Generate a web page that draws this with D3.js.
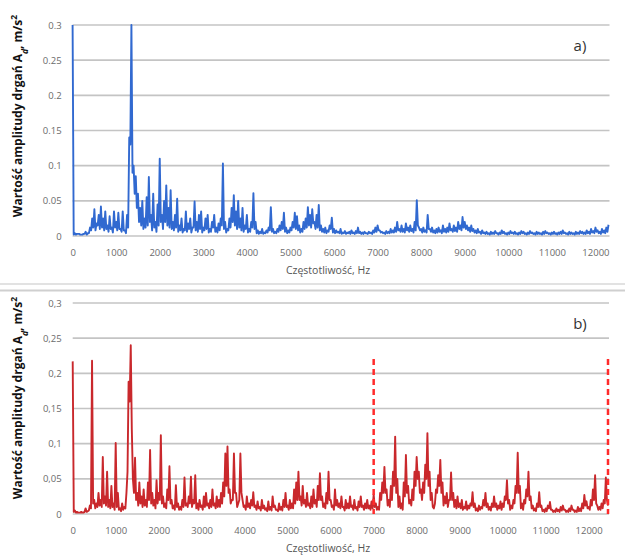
<!DOCTYPE html>
<html>
<head>
<meta charset="utf-8">
<script src="https://cdn.jsdelivr.net/npm/d3@7"></script>
<style>
  body { margin: 0; background: #fff; }
  svg text { font-family: "Open Sans", "DejaVu Sans", sans-serif; }
</style>
</head>
<body>
<div id="my-svg-chart"></div>
<script>
// spectrum data: peak values every 50 Hz starting at 0 Hz,
// plus the dips read in between (at 25, 75, 125 ... Hz)
const freqStep = 50;

// a) amplitude, m/s2 (0 .. 12300 Hz)
const ampA = [
  0.30, 0.004, 0.003, 0.003, 0.002, 0.003, 0.006, 0.004, 0.012, 0.025,
  0.038, 0.018, 0.030, 0.042, 0.025, 0.035, 0.015, 0.028, 0.012, 0.035,
  0.020, 0.033, 0.010, 0.035, 0.008, 0.030, 0.140, 0.300, 0.100, 0.085,
  0.060, 0.040, 0.050, 0.025, 0.055, 0.084, 0.030, 0.060, 0.020, 0.045,
  0.110, 0.030, 0.050, 0.072, 0.040, 0.065, 0.020, 0.030, 0.053, 0.015,
  0.025, 0.010, 0.035, 0.018, 0.025, 0.012, 0.049, 0.020, 0.030, 0.035,
  0.012, 0.025, 0.030, 0.010, 0.020, 0.030, 0.012, 0.018, 0.025, 0.103,
  0.020, 0.010, 0.025, 0.040, 0.058, 0.035, 0.050, 0.025, 0.040, 0.015,
  0.030, 0.010, 0.020, 0.061, 0.020, 0.008, 0.006, 0.010, 0.005, 0.008,
  0.012, 0.041, 0.010, 0.006, 0.010, 0.015, 0.020, 0.033, 0.012, 0.008,
  0.012, 0.020, 0.033, 0.028, 0.015, 0.010, 0.020, 0.025, 0.041, 0.030,
  0.038, 0.020, 0.030, 0.044, 0.015, 0.010, 0.012, 0.008, 0.015, 0.026,
  0.010, 0.008, 0.006, 0.010, 0.005, 0.007, 0.005, 0.006, 0.008, 0.005,
  0.007, 0.012, 0.006, 0.005, 0.006, 0.004, 0.006, 0.005, 0.008, 0.012,
  0.015, 0.008, 0.006, 0.005, 0.007, 0.006, 0.010, 0.008, 0.012, 0.020,
  0.010, 0.015, 0.010, 0.018, 0.012, 0.015, 0.010, 0.020, 0.051, 0.012,
  0.010, 0.012, 0.008, 0.030, 0.010, 0.012, 0.008, 0.010, 0.012, 0.008,
  0.015, 0.010, 0.012, 0.018, 0.010, 0.015, 0.012, 0.020, 0.015, 0.027,
  0.020, 0.015, 0.012, 0.015, 0.010, 0.008, 0.010, 0.006, 0.008, 0.005,
  0.006, 0.004, 0.006, 0.005, 0.007, 0.004, 0.005, 0.008, 0.006, 0.004,
  0.005, 0.007, 0.005, 0.006, 0.004, 0.005, 0.007, 0.006, 0.004, 0.005,
  0.007, 0.005, 0.004, 0.006, 0.005, 0.004, 0.006, 0.007, 0.005, 0.004,
  0.005, 0.006, 0.004, 0.005, 0.006, 0.008, 0.005, 0.004, 0.006, 0.005,
  0.004, 0.006, 0.005, 0.007, 0.006, 0.005, 0.008, 0.006, 0.010, 0.007,
  0.012, 0.008, 0.006, 0.010, 0.008, 0.012, 0.016
];
const dipA = [
  0.002, 0.002, 0.003, 0.002, 0.002, 0.003, 0.002, 0.004, 0.008, 0.012,
  0.008, 0.015, 0.010, 0.012, 0.008, 0.010, 0.006, 0.010, 0.005, 0.012,
  0.008, 0.010, 0.006, 0.008, 0.004, 0.012, 0.130, 0.090, 0.060, 0.040,
  0.020, 0.015, 0.010, 0.012, 0.015, 0.020, 0.008, 0.012, 0.006, 0.015,
  0.020, 0.010, 0.020, 0.015, 0.012, 0.010, 0.008, 0.012, 0.006, 0.008,
  0.005, 0.008, 0.006, 0.010, 0.005, 0.012, 0.008, 0.006, 0.010, 0.005,
  0.008, 0.010, 0.005, 0.006, 0.012, 0.006, 0.005, 0.008, 0.015, 0.010,
  0.005, 0.008, 0.012, 0.020, 0.015, 0.010, 0.012, 0.008, 0.006, 0.010,
  0.005, 0.006, 0.012, 0.010, 0.004, 0.003, 0.004, 0.003, 0.004, 0.005,
  0.008, 0.006, 0.004, 0.004, 0.006, 0.008, 0.010, 0.006, 0.004, 0.005,
  0.008, 0.012, 0.010, 0.008, 0.005, 0.006, 0.010, 0.012, 0.015, 0.012,
  0.018, 0.010, 0.012, 0.008, 0.006, 0.005, 0.004, 0.006, 0.010, 0.005,
  0.004, 0.005, 0.004, 0.003, 0.004, 0.003, 0.004, 0.003, 0.004, 0.003,
  0.004, 0.004, 0.003, 0.003, 0.004, 0.003, 0.004, 0.003, 0.005, 0.006,
  0.008, 0.005, 0.004, 0.003, 0.004, 0.004, 0.005, 0.005, 0.006, 0.008,
  0.006, 0.006, 0.005, 0.008, 0.006, 0.007, 0.005, 0.008, 0.015, 0.008,
  0.005, 0.006, 0.005, 0.010, 0.006, 0.005, 0.004, 0.005, 0.006, 0.004,
  0.006, 0.005, 0.006, 0.008, 0.006, 0.007, 0.006, 0.010, 0.008, 0.012,
  0.010, 0.008, 0.006, 0.007, 0.005, 0.004, 0.005, 0.003, 0.004, 0.003,
  0.003, 0.002, 0.003, 0.003, 0.004, 0.002, 0.003, 0.004, 0.003, 0.002,
  0.003, 0.004, 0.003, 0.003, 0.002, 0.003, 0.004, 0.003, 0.002, 0.003,
  0.004, 0.003, 0.002, 0.003, 0.003, 0.002, 0.003, 0.004, 0.003, 0.002,
  0.003, 0.003, 0.002, 0.003, 0.003, 0.004, 0.003, 0.002, 0.003, 0.003,
  0.002, 0.003, 0.003, 0.004, 0.003, 0.003, 0.004, 0.003, 0.005, 0.004,
  0.006, 0.004, 0.003, 0.005, 0.004, 0.006
];

// b) amplitude, m/s2 (0 .. 12450 Hz)
const ampB = [
  0.217, 0.005, 0.003, 0.002, 0.003, 0.002, 0.008, 0.004, 0.012, 0.218,
  0.020, 0.015, 0.030, 0.020, 0.081, 0.025, 0.060, 0.020, 0.040, 0.015,
  0.101, 0.030, 0.008, 0.015, 0.010, 0.030, 0.188, 0.240, 0.050, 0.080,
  0.030, 0.045, 0.025, 0.035, 0.020, 0.045, 0.091, 0.030, 0.020, 0.048,
  0.030, 0.112, 0.025, 0.015, 0.035, 0.068, 0.020, 0.012, 0.041, 0.015,
  0.010, 0.020, 0.052, 0.015, 0.025, 0.053, 0.020, 0.055, 0.015, 0.020,
  0.012, 0.025, 0.030, 0.015, 0.020, 0.035, 0.015, 0.025, 0.020, 0.030,
  0.045, 0.086, 0.096, 0.035, 0.020, 0.086, 0.030, 0.015, 0.086, 0.020,
  0.012, 0.025, 0.015, 0.020, 0.031, 0.012, 0.018, 0.010, 0.020, 0.012,
  0.008, 0.018, 0.010, 0.025, 0.012, 0.006, 0.015, 0.010, 0.020, 0.030,
  0.012, 0.020, 0.015, 0.035, 0.045, 0.060, 0.025, 0.040, 0.020, 0.030,
  0.015, 0.025, 0.035, 0.020, 0.040, 0.058, 0.025, 0.015, 0.030, 0.060,
  0.020, 0.012, 0.035, 0.020, 0.015, 0.025, 0.010, 0.020, 0.015, 0.025,
  0.012, 0.020, 0.010, 0.018, 0.025, 0.012, 0.015, 0.020, 0.012, 0.018,
  0.028, 0.015, 0.010, 0.030, 0.045, 0.067, 0.035, 0.020, 0.040, 0.060,
  0.110, 0.050, 0.025, 0.015, 0.045, 0.084, 0.040, 0.020, 0.035, 0.060,
  0.081, 0.060, 0.035, 0.045, 0.070, 0.115, 0.060, 0.030, 0.008, 0.035,
  0.055, 0.077, 0.045, 0.025, 0.030, 0.020, 0.059, 0.030, 0.020, 0.025,
  0.015, 0.020, 0.010, 0.018, 0.012, 0.015, 0.031, 0.015, 0.008, 0.012,
  0.010, 0.020, 0.030, 0.015, 0.010, 0.015, 0.025, 0.015, 0.012, 0.018,
  0.015, 0.025, 0.048, 0.020, 0.012, 0.020, 0.040, 0.087, 0.040, 0.015,
  0.020, 0.035, 0.060, 0.025, 0.012, 0.008, 0.015, 0.031, 0.012, 0.006,
  0.008, 0.012, 0.017, 0.006, 0.005, 0.008, 0.006, 0.010, 0.012, 0.006,
  0.005, 0.008, 0.012, 0.006, 0.005, 0.010, 0.008, 0.015, 0.027, 0.018,
  0.010, 0.020, 0.035, 0.055, 0.012, 0.010, 0.015, 0.020, 0.052, 0.012
];
const dipB = [
  0.003, 0.002, 0.002, 0.002, 0.002, 0.003, 0.003, 0.005, 0.008, 0.015,
  0.008, 0.010, 0.012, 0.010, 0.015, 0.012, 0.010, 0.008, 0.010, 0.006,
  0.010, 0.006, 0.004, 0.006, 0.008, 0.060, 0.160, 0.120, 0.030, 0.020,
  0.012, 0.015, 0.010, 0.012, 0.010, 0.020, 0.015, 0.012, 0.008, 0.015,
  0.020, 0.015, 0.010, 0.008, 0.020, 0.015, 0.008, 0.006, 0.010, 0.006,
  0.006, 0.010, 0.012, 0.010, 0.015, 0.010, 0.015, 0.008, 0.006, 0.010,
  0.006, 0.010, 0.012, 0.008, 0.010, 0.012, 0.008, 0.010, 0.010, 0.015,
  0.025, 0.040, 0.030, 0.015, 0.020, 0.030, 0.010, 0.020, 0.030, 0.010,
  0.006, 0.010, 0.008, 0.012, 0.010, 0.006, 0.008, 0.005, 0.008, 0.006,
  0.004, 0.006, 0.005, 0.010, 0.006, 0.004, 0.006, 0.005, 0.010, 0.010,
  0.006, 0.008, 0.008, 0.015, 0.020, 0.020, 0.012, 0.015, 0.010, 0.012,
  0.008, 0.010, 0.015, 0.010, 0.020, 0.020, 0.010, 0.008, 0.015, 0.020,
  0.010, 0.006, 0.012, 0.010, 0.008, 0.010, 0.005, 0.008, 0.008, 0.010,
  0.006, 0.008, 0.005, 0.010, 0.010, 0.006, 0.008, 0.008, 0.006, 0.008,
  0.010, 0.006, 0.006, 0.020, 0.030, 0.030, 0.012, 0.010, 0.020, 0.040,
  0.030, 0.010, 0.008, 0.006, 0.025, 0.030, 0.015, 0.012, 0.020, 0.040,
  0.050, 0.030, 0.020, 0.030, 0.050, 0.040, 0.020, 0.010, 0.015, 0.030,
  0.040, 0.030, 0.012, 0.015, 0.010, 0.020, 0.020, 0.010, 0.008, 0.010,
  0.008, 0.006, 0.008, 0.006, 0.008, 0.012, 0.010, 0.005, 0.004, 0.006,
  0.008, 0.012, 0.010, 0.006, 0.005, 0.010, 0.010, 0.006, 0.008, 0.006,
  0.010, 0.020, 0.015, 0.006, 0.008, 0.015, 0.030, 0.030, 0.008, 0.006,
  0.015, 0.025, 0.020, 0.008, 0.005, 0.004, 0.010, 0.010, 0.004, 0.003,
  0.004, 0.008, 0.006, 0.003, 0.003, 0.004, 0.003, 0.005, 0.006, 0.003,
  0.003, 0.004, 0.006, 0.003, 0.003, 0.004, 0.004, 0.008, 0.012, 0.008,
  0.006, 0.012, 0.020, 0.015, 0.006, 0.006, 0.008, 0.015, 0.020
];

// axis ticks
const freqTicks = [0, 1000, 2000, 3000, 4000, 5000, 6000, 7000, 8000, 9000, 10000, 11000, 12000];
const ampTicks = [0, 0.05, 0.1, 0.15, 0.2, 0.25, 0.3];
// dashed markers on panel b)
const markersB = [7000, 12450];

const myChart = d3.select('#my-svg-chart')
  .append('svg')
  .attr('width', 625)
  .attr('height', 555);

const commaFmt = d3.formatLocale({decimal: ',', thousands: ' ', grouping: [3], currency: ['', '']}).format('~g');
const dotFmt = d3.format('~g');

// separator between the two charts
myChart.append('line')
  .attr('x1', 0).attr('x2', 625).attr('y1', 284).attr('y2', 284)
  .style('stroke', '#d9d9d9').style('stroke-width', 1.5);
myChart.append('line')
  .attr('x1', 0).attr('x2', 625).attr('y1', 290.5).attr('y2', 290.5)
  .style('stroke', '#cfcfcf').style('stroke-width', 2);

function drawPanel(opts) {
  // merge peaks and dips into one sorted series
  const data = [];
  opts.values.forEach((v, i) => {
    data.push({f: i * freqStep, a: v});
    if (i < opts.dips.length) data.push({f: i * freqStep + freqStep / 2, a: opts.dips[i]});
  });
  const fMax = (opts.values.length - 1) * freqStep;

  const x = d3.scaleLinear().domain([0, fMax]).range([opts.left, opts.right]);
  const y = d3.scaleLinear().domain([0, 0.3]).range([opts.bottom, opts.top]);

  const g = myChart.append('g');

  // horizontal gridlines
  g.selectAll('line.grid')
    .data(ampTicks)
    .join('line')
    .attr('class', 'grid')
    .attr('x1', opts.left)
    .attr('x2', opts.right + 1)
    .attr('y1', d => y(d))
    .attr('y2', d => y(d))
    .style('stroke', '#c4c4c4')
    .style('stroke-width', 1.6);

  // y tick labels
  const yAxis = d3.axisLeft(y).tickValues(ampTicks).tickSize(0).tickPadding(0).tickFormat(opts.fmt);
  g.append('g')
    .attr('transform', `translate(${opts.left - 11},0)`)
    .call(yAxis)
    .call(s => s.select('.domain').remove())
    .selectAll('text')
    .style('font-size', '9.5px')
    .style('fill', '#6b6b6b');

  // x tick labels
  const xAxis = d3.axisBottom(x).tickValues(freqTicks).tickSize(0).tickPadding(0).tickFormat(d3.format('d'));
  g.append('g')
    .attr('transform', `translate(0,${opts.bottom + 13})`)
    .call(xAxis)
    .call(s => s.select('.domain').remove())
    .selectAll('text')
    .style('font-size', '9.5px')
    .style('fill', '#6b6b6b');

  // x title
  g.append('text')
    .attr('x', 328)
    .attr('y', opts.bottom + 38)
    .attr('text-anchor', 'middle')
    .style('font-size', '10.5px')
    .style('fill', '#555')
    .text('Częstotliwość, Hz');

  // y title
  const yt = g.append('text')
    .attr('transform', `translate(22,${opts.titleY}) rotate(-90)`)
    .attr('text-anchor', 'middle')
    .style('font-size', '12px')
    .style('font-weight', 'bold')
    .style('fill', '#111');
  yt.append('tspan').text('Wartość amplitudy drgań A');
  yt.append('tspan').attr('baseline-shift', 'sub').style('font-size', '8.5px').style('font-style', 'italic').text('d');
  yt.append('tspan').text(', m/s');
  yt.append('tspan').attr('baseline-shift', 'super').style('font-size', '8.5px').text('2');

  // spectrum line
  const line = d3.line().x(d => x(d.f)).y(d => y(Math.min(d.a, 0.3)));
  g.append('path')
    .datum(data)
    .attr('d', line)
    .style('fill', 'none')
    .style('stroke', opts.color)
    .style('stroke-width', 1.9)
    .style('stroke-linejoin', 'round');

  // dashed markers
  g.selectAll('line.marker')
    .data(opts.markers || [])
    .join('line')
    .attr('class', 'marker')
    .attr('x1', d => x(d))
    .attr('x2', d => x(d))
    .attr('y1', opts.markerTop)
    .attr('y2', opts.bottom)
    .style('stroke', '#ff2b2b')
    .style('stroke-width', 2.5)
    .style('stroke-dasharray', '6,4');

  // panel letter
  g.append('text')
    .attr('x', 580)
    .attr('y', opts.top + 26)
    .attr('text-anchor', 'middle')
    .style('font-size', '15px')
    .style('fill', '#333')
    .text(opts.letter);
}

drawPanel({values: ampA, dips: dipA, left: 72.6, right: 608.5, top: 25, bottom: 236,
  color: '#3169d0', fmt: dotFmt, letter: 'a)', titleY: 116});

drawPanel({values: ampB, dips: dipB, left: 72.7, right: 608, top: 303, bottom: 514,
  color: '#c9282c', fmt: commaFmt, letter: 'b)', titleY: 398,
  markers: markersB, markerTop: 359});
</script>
</body>
</html>
